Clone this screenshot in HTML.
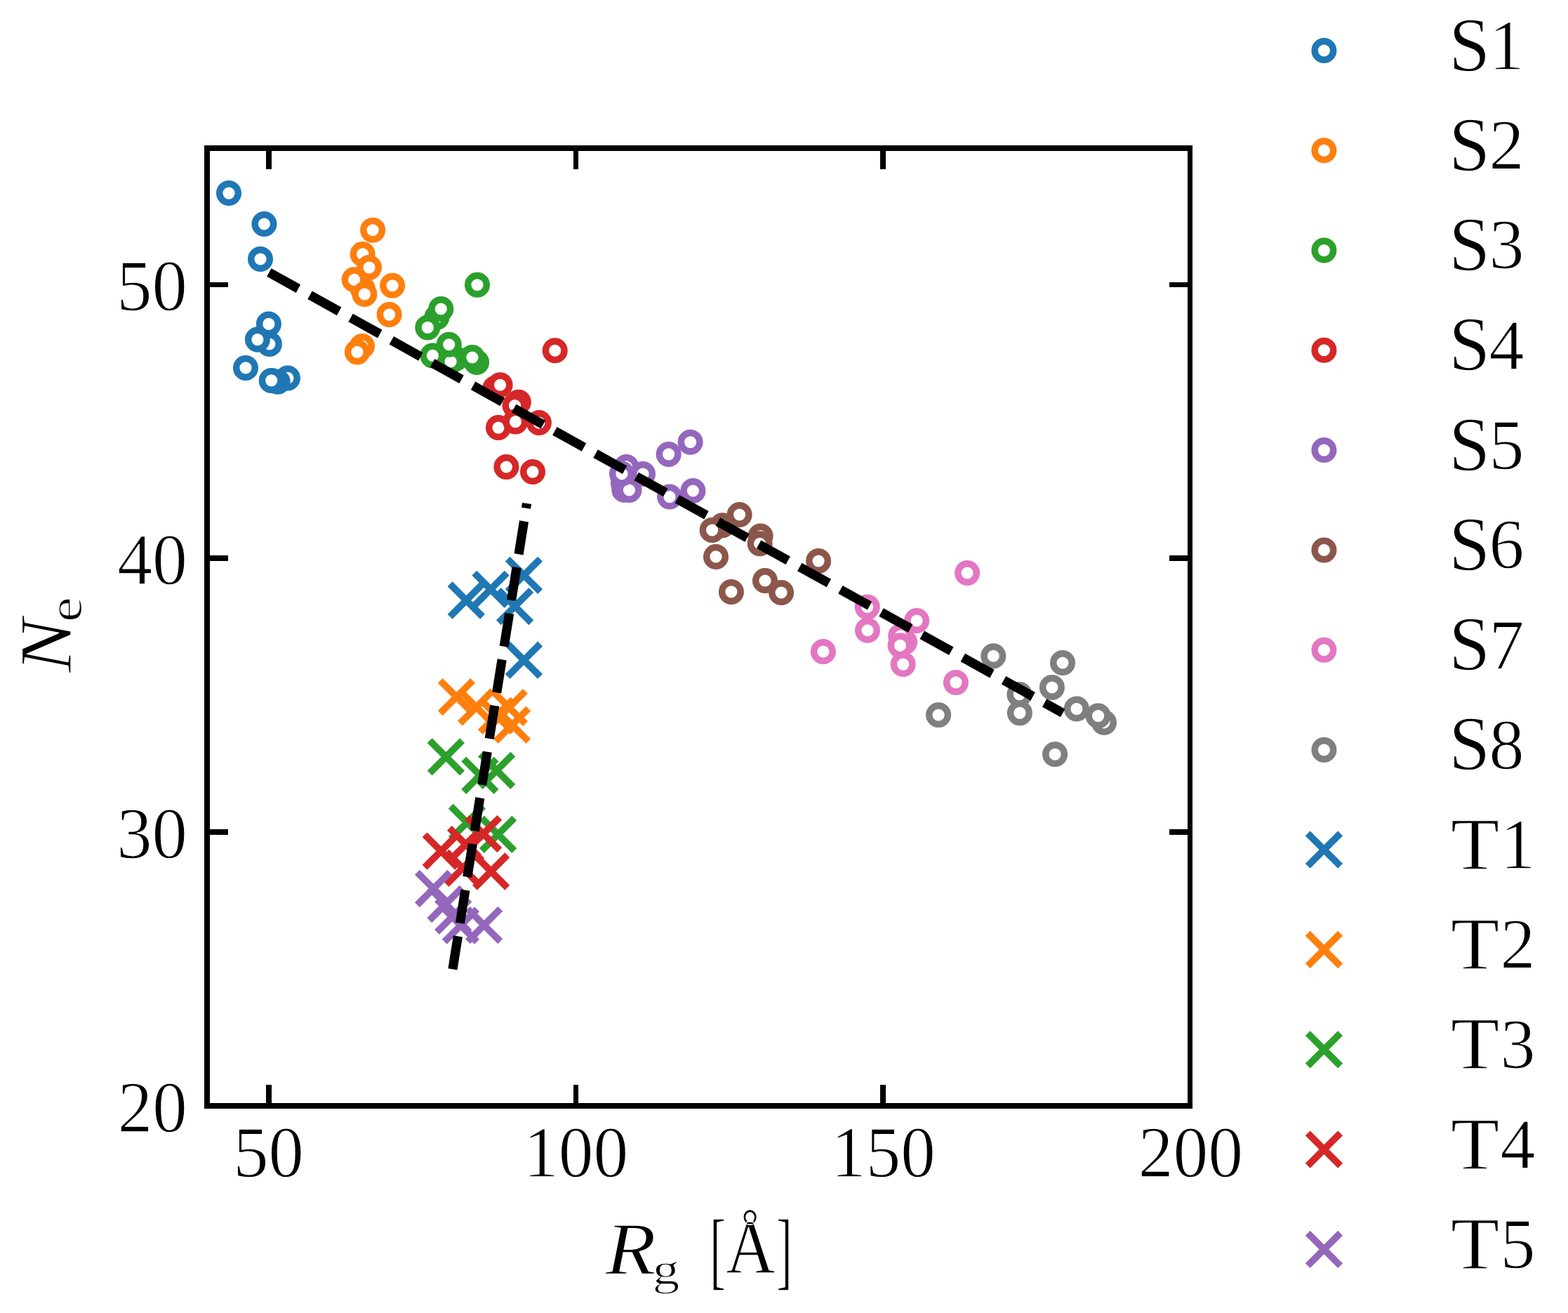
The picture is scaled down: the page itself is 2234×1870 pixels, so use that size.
<!DOCTYPE html>
<html lang="en"><head><meta charset="utf-8"><title>N_e vs R_g</title>
<style>
html,body{margin:0;padding:0;background:#fff;}
body{width:2234px;height:1870px;overflow:hidden;}
svg{display:block;}
text{font-family:"Liberation Serif","DejaVu Serif",serif;fill:#000;stroke:#fff;stroke-width:1.3px;stroke-linejoin:round}
.i{font-style:italic}
.c{fill:#fff;stroke-width:9.45}
.x{fill:none;stroke-width:9.7;stroke-linecap:butt}
.k{fill:#000;stroke:none}
.d{stroke:#000;stroke-width:13.2;fill:none;stroke-dasharray:47.6 18.9}
</style></head><body>
<svg xmlns="http://www.w3.org/2000/svg" width="2234" height="1870" viewBox="0 0 2234 1870">
<rect x="0" y="0" width="2234" height="1870" fill="#fff"/>
<g>
<circle class="c" cx="326.0" cy="275.1" r="13.3" stroke="#1f77b4"/>
<circle class="c" cx="376.4" cy="319.0" r="13.3" stroke="#1f77b4"/>
<circle class="c" cx="371.0" cy="369.0" r="13.3" stroke="#1f77b4"/>
<circle class="c" cx="383.9" cy="490.0" r="13.3" stroke="#1f77b4"/>
<circle class="c" cx="382.9" cy="461.4" r="13.3" stroke="#1f77b4"/>
<circle class="c" cx="366.9" cy="483.6" r="13.3" stroke="#1f77b4"/>
<circle class="c" cx="350.0" cy="523.9" r="13.3" stroke="#1f77b4"/>
<circle class="c" cx="409.9" cy="538.4" r="13.3" stroke="#1f77b4"/>
<circle class="c" cx="395.7" cy="543.7" r="13.3" stroke="#1f77b4"/>
<circle class="c" cx="386.7" cy="541.9" r="13.3" stroke="#1f77b4"/>
</g>
<g>
<circle class="c" cx="531.1" cy="327.7" r="13.3" stroke="#ff7f0e"/>
<circle class="c" cx="516.7" cy="361.9" r="13.3" stroke="#ff7f0e"/>
<circle class="c" cx="526.0" cy="381.0" r="13.3" stroke="#ff7f0e"/>
<circle class="c" cx="516.8" cy="411.6" r="13.3" stroke="#ff7f0e"/>
<circle class="c" cx="504.6" cy="398.3" r="13.3" stroke="#ff7f0e"/>
<circle class="c" cx="519.4" cy="419.0" r="13.3" stroke="#ff7f0e"/>
<circle class="c" cx="559.1" cy="406.7" r="13.3" stroke="#ff7f0e"/>
<circle class="c" cx="554.6" cy="448.1" r="13.3" stroke="#ff7f0e"/>
<circle class="c" cx="516.0" cy="493.0" r="13.3" stroke="#ff7f0e"/>
<circle class="c" cx="508.9" cy="501.4" r="13.3" stroke="#ff7f0e"/>
</g>
<g>
<circle class="c" cx="680.0" cy="405.7" r="13.3" stroke="#2ca02c"/>
<circle class="c" cx="622.3" cy="452.0" r="13.3" stroke="#2ca02c"/>
<circle class="c" cx="628.3" cy="440.0" r="13.3" stroke="#2ca02c"/>
<circle class="c" cx="609.3" cy="466.4" r="13.3" stroke="#2ca02c"/>
<circle class="c" cx="649.2" cy="510.7" r="13.3" stroke="#2ca02c"/>
<circle class="c" cx="642.1" cy="515.0" r="13.3" stroke="#2ca02c"/>
<circle class="c" cx="639.7" cy="490.7" r="13.3" stroke="#2ca02c"/>
<circle class="c" cx="616.4" cy="506.4" r="13.3" stroke="#2ca02c"/>
<circle class="c" cx="679.1" cy="516.0" r="13.3" stroke="#2ca02c"/>
<circle class="c" cx="672.9" cy="509.0" r="13.3" stroke="#2ca02c"/>
</g>
<g>
<circle class="c" cx="790.7" cy="499.3" r="13.3" stroke="#d62728"/>
<circle class="c" cx="705.4" cy="553.1" r="13.3" stroke="#d62728"/>
<circle class="c" cx="712.6" cy="548.2" r="13.3" stroke="#d62728"/>
<circle class="c" cx="738.8" cy="572.7" r="13.3" stroke="#d62728"/>
<circle class="c" cx="733.5" cy="577.5" r="13.3" stroke="#d62728"/>
<circle class="c" cx="710.0" cy="609.1" r="13.3" stroke="#d62728"/>
<circle class="c" cx="734.4" cy="600.6" r="13.3" stroke="#d62728"/>
<circle class="c" cx="767.9" cy="602.1" r="13.3" stroke="#d62728"/>
<circle class="c" cx="721.4" cy="665.0" r="13.3" stroke="#d62728"/>
<circle class="c" cx="759.0" cy="672.1" r="13.3" stroke="#d62728"/>
</g>
<g>
<circle class="c" cx="892.4" cy="664.9" r="13.3" stroke="#9467bd"/>
<circle class="c" cx="916.0" cy="675.0" r="13.3" stroke="#9467bd"/>
<circle class="c" cx="889.3" cy="697.7" r="13.3" stroke="#9467bd"/>
<circle class="c" cx="887.9" cy="687.9" r="13.3" stroke="#9467bd"/>
<circle class="c" cx="896.4" cy="698.0" r="13.3" stroke="#9467bd"/>
<circle class="c" cx="885.9" cy="674.8" r="13.3" stroke="#9467bd"/>
<circle class="c" cx="952.6" cy="646.9" r="13.3" stroke="#9467bd"/>
<circle class="c" cx="983.6" cy="629.7" r="13.3" stroke="#9467bd"/>
<circle class="c" cx="954.0" cy="707.6" r="13.3" stroke="#9467bd"/>
<circle class="c" cx="987.4" cy="699.0" r="13.3" stroke="#9467bd"/>
</g>
<g>
<circle class="c" cx="1053.6" cy="733.0" r="13.3" stroke="#8c564b"/>
<circle class="c" cx="1029.3" cy="748.2" r="13.3" stroke="#8c564b"/>
<circle class="c" cx="1014.6" cy="755.0" r="13.3" stroke="#8c564b"/>
<circle class="c" cx="1083.6" cy="763.5" r="13.3" stroke="#8c564b"/>
<circle class="c" cx="1082.6" cy="774.3" r="13.3" stroke="#8c564b"/>
<circle class="c" cx="1020.0" cy="792.9" r="13.3" stroke="#8c564b"/>
<circle class="c" cx="1090.0" cy="827.0" r="13.3" stroke="#8c564b"/>
<circle class="c" cx="1166.1" cy="799.0" r="13.3" stroke="#8c564b"/>
<circle class="c" cx="1041.9" cy="842.9" r="13.3" stroke="#8c564b"/>
<circle class="c" cx="1113.1" cy="844.0" r="13.3" stroke="#8c564b"/>
</g>
<g>
<circle class="c" cx="1235.7" cy="864.5" r="13.3" stroke="#e377c2"/>
<circle class="c" cx="1236.0" cy="897.7" r="13.3" stroke="#e377c2"/>
<circle class="c" cx="1172.9" cy="928.0" r="13.3" stroke="#e377c2"/>
<circle class="c" cx="1378.1" cy="816.0" r="13.3" stroke="#e377c2"/>
<circle class="c" cx="1306.1" cy="884.0" r="13.3" stroke="#e377c2"/>
<circle class="c" cx="1289.1" cy="914.6" r="13.3" stroke="#e377c2"/>
<circle class="c" cx="1283.2" cy="905.8" r="13.3" stroke="#e377c2"/>
<circle class="c" cx="1282.6" cy="919.3" r="13.3" stroke="#e377c2"/>
<circle class="c" cx="1286.7" cy="946.1" r="13.3" stroke="#e377c2"/>
<circle class="c" cx="1361.9" cy="971.9" r="13.3" stroke="#e377c2"/>
</g>
<g>
<circle class="c" cx="1415.3" cy="934.2" r="13.3" stroke="#7f7f7f"/>
<circle class="c" cx="1337.1" cy="1018.2" r="13.3" stroke="#7f7f7f"/>
<circle class="c" cx="1514.0" cy="944.0" r="13.3" stroke="#7f7f7f"/>
<circle class="c" cx="1498.9" cy="979.0" r="13.3" stroke="#7f7f7f"/>
<circle class="c" cx="1452.4" cy="988.9" r="13.3" stroke="#7f7f7f"/>
<circle class="c" cx="1452.9" cy="1015.4" r="13.3" stroke="#7f7f7f"/>
<circle class="c" cx="1533.9" cy="1009.6" r="13.3" stroke="#7f7f7f"/>
<circle class="c" cx="1573.0" cy="1028.9" r="13.3" stroke="#7f7f7f"/>
<circle class="c" cx="1564.6" cy="1019.6" r="13.3" stroke="#7f7f7f"/>
<circle class="c" cx="1503.1" cy="1074.3" r="13.3" stroke="#7f7f7f"/>
</g>
<g>
<path class="x" stroke="#1f77b4" d="M723.2 796.1L769.6 842.5M723.2 842.5L769.6 796.1"/>
<path class="x" stroke="#1f77b4" d="M675.8 816.1L722.2 862.5M675.8 862.5L722.2 816.1"/>
<path class="x" stroke="#1f77b4" d="M641.1 831.8L687.5 878.2M641.1 878.2L687.5 831.8"/>
<path class="x" stroke="#1f77b4" d="M710.4 840.4L756.8 886.8M710.4 886.8L756.8 840.4"/>
<path class="x" stroke="#1f77b4" d="M723.2 917.0L769.6 963.4M723.2 963.4L769.6 917.0"/>
</g>
<g>
<path class="x" stroke="#ff7f0e" d="M627.2 969.4L673.6 1015.8M627.2 1015.8L673.6 969.4"/>
<path class="x" stroke="#ff7f0e" d="M655.4 983.9L701.8 1030.3M655.4 1030.3L701.8 983.9"/>
<path class="x" stroke="#ff7f0e" d="M702.1 984.4L748.5 1030.8M702.1 1030.8L748.5 984.4"/>
<path class="x" stroke="#ff7f0e" d="M706.4 1009.2L752.8 1055.6M706.4 1055.6L752.8 1009.2"/>
<path class="x" stroke="#ff7f0e" d="M684.4 996.1L730.8 1042.5M684.4 1042.5L730.8 996.1"/>
</g>
<g>
<path class="x" stroke="#2ca02c" d="M612.2 1054.7L658.6 1101.1M612.2 1101.1L658.6 1054.7"/>
<path class="x" stroke="#2ca02c" d="M660.7 1081.1L707.1 1127.5M660.7 1127.5L707.1 1081.1"/>
<path class="x" stroke="#2ca02c" d="M684.4 1074.1L730.8 1120.5M684.4 1120.5L730.8 1074.1"/>
<path class="x" stroke="#2ca02c" d="M642.2 1148.2L688.6 1194.6M642.2 1194.6L688.6 1148.2"/>
<path class="x" stroke="#2ca02c" d="M686.4 1165.1L732.8 1211.5M686.4 1211.5L732.8 1165.1"/>
</g>
<g>
<path class="x" stroke="#d62728" d="M605.1 1188.9L651.5 1235.3M605.1 1235.3L651.5 1188.9"/>
<path class="x" stroke="#d62728" d="M640.4 1179.4L686.8 1225.8M640.4 1225.8L686.8 1179.4"/>
<path class="x" stroke="#d62728" d="M665.4 1164.4L711.8 1210.8M665.4 1210.8L711.8 1164.4"/>
<path class="x" stroke="#d62728" d="M676.4 1217.8L722.8 1264.2M676.4 1264.2L722.8 1217.8"/>
<path class="x" stroke="#d62728" d="M636.1 1213.2L682.5 1259.6M636.1 1259.6L682.5 1213.2"/>
</g>
<g>
<path class="x" stroke="#9467bd" d="M594.4 1242.4L640.8 1288.8M594.4 1288.8L640.8 1242.4"/>
<path class="x" stroke="#9467bd" d="M611.8 1264.4L658.2 1310.8M611.8 1310.8L658.2 1264.4"/>
<path class="x" stroke="#9467bd" d="M622.5 1281.1L668.9 1327.5M622.5 1327.5L668.9 1281.1"/>
<path class="x" stroke="#9467bd" d="M666.4 1294.4L712.8 1340.8M666.4 1340.8L712.8 1294.4"/>
<path class="x" stroke="#9467bd" d="M633.2 1294.9L679.6 1341.3M633.2 1341.3L679.6 1294.9"/>
</g>
<path class="d" d="M383.35 388.01L1514.20 1015.50"/>
<path class="d" d="M644.94 1380.40L750.60 717.00"/>
<path class="k" d="M379 1545H387V1575H379ZM379 211H387V241H379ZM817 1545H824V1575H817ZM817 211H824V241H817ZM1254 1545H1262V1575H1254ZM1254 211H1262V241H1254ZM295 402H325V409H295ZM1666 402H1695V409H1666ZM295 791H325V799H295ZM1666 791H1695V799H1666ZM295 1181H325V1189H295ZM1666 1181H1695V1189H1666Z"/>
<path class="k" fill-rule="evenodd" d="M291 207H1699V1579H291ZM299 215V1571H1692V215Z"/>
<text><tspan x="332.20" y="1675.90" font-size="104.74" textLength="100.78" lengthAdjust="spacingAndGlyphs">50</tspan></text>
<text><tspan x="746.11" y="1675.90" font-size="104.74" textLength="149.01" lengthAdjust="spacingAndGlyphs">100</tspan></text>
<text><tspan x="1184.24" y="1675.90" font-size="104.74" textLength="148.47" lengthAdjust="spacingAndGlyphs">150</tspan></text>
<text><tspan x="1621.87" y="1675.90" font-size="104.74" textLength="149.26" lengthAdjust="spacingAndGlyphs">200</tspan></text>
<text><tspan x="166.21" y="441.71" font-size="104.44" textLength="100.67" lengthAdjust="spacingAndGlyphs">50</tspan></text>
<text><tspan x="167.16" y="831.70" font-size="104.59" textLength="99.68" lengthAdjust="spacingAndGlyphs">40</tspan></text>
<text><tspan x="166.22" y="1221.80" font-size="104.59" textLength="100.66" lengthAdjust="spacingAndGlyphs">30</tspan></text>
<text><tspan x="167.80" y="1611.71" font-size="104.44" textLength="98.91" lengthAdjust="spacingAndGlyphs">20</tspan></text>
<text><tspan x="862.84" y="1813.55" font-size="106.62" textLength="71.88" lengthAdjust="spacingAndGlyphs" class="i">R</tspan><tspan x="929.55" y="1829.08" font-size="64.14" textLength="38.85" lengthAdjust="spacingAndGlyphs">g</tspan><tspan font-size="60"> </tspan><tspan x="1010.90" y="1821.91" font-size="122.55" textLength="23.31" lengthAdjust="spacingAndGlyphs">[</tspan><tspan x="1034.18" y="1813.35" font-size="110.67" textLength="70.37" lengthAdjust="spacingAndGlyphs">Å</tspan><tspan x="1105.95" y="1821.91" font-size="122.55" textLength="22.80" lengthAdjust="spacingAndGlyphs">]</tspan></text>
<text transform="translate(100,958) rotate(-90)"><tspan x="-0.07" y="0.65" font-size="106.77" textLength="76.78" lengthAdjust="spacingAndGlyphs" class="i">N</tspan><tspan x="71.93" y="16.17" font-size="67.92" textLength="35.75" lengthAdjust="spacingAndGlyphs">e</tspan></text>
<circle class="c" cx="1886.4" cy="72.0" r="13.3" stroke="#1f77b4"/>
<text><tspan x="2064.17" y="100.55" font-size="109.55" textLength="58.85" lengthAdjust="spacingAndGlyphs">S</tspan><tspan x="2121.50" y="98.90" font-size="101.80" textLength="50.00" lengthAdjust="spacingAndGlyphs">1</tspan></text>
<circle class="c" cx="1886.4" cy="214.3" r="13.3" stroke="#ff7f0e"/>
<text><tspan x="2064.17" y="242.82" font-size="109.55" textLength="58.85" lengthAdjust="spacingAndGlyphs">S</tspan><tspan x="2121.50" y="241.17" font-size="101.80" textLength="50.00" lengthAdjust="spacingAndGlyphs">2</tspan></text>
<circle class="c" cx="1886.4" cy="356.6" r="13.3" stroke="#2ca02c"/>
<text><tspan x="2064.17" y="385.09" font-size="109.55" textLength="58.85" lengthAdjust="spacingAndGlyphs">S</tspan><tspan x="2121.50" y="383.44" font-size="101.80" textLength="50.00" lengthAdjust="spacingAndGlyphs">3</tspan></text>
<circle class="c" cx="1886.4" cy="498.8" r="13.3" stroke="#d62728"/>
<text><tspan x="2064.17" y="527.36" font-size="109.55" textLength="58.85" lengthAdjust="spacingAndGlyphs">S</tspan><tspan x="2121.50" y="525.71" font-size="101.80" textLength="50.00" lengthAdjust="spacingAndGlyphs">4</tspan></text>
<circle class="c" cx="1886.4" cy="641.1" r="13.3" stroke="#9467bd"/>
<text><tspan x="2064.17" y="669.63" font-size="109.55" textLength="58.85" lengthAdjust="spacingAndGlyphs">S</tspan><tspan x="2121.50" y="667.98" font-size="101.80" textLength="50.00" lengthAdjust="spacingAndGlyphs">5</tspan></text>
<circle class="c" cx="1886.4" cy="783.4" r="13.3" stroke="#8c564b"/>
<text><tspan x="2064.17" y="811.90" font-size="109.55" textLength="58.85" lengthAdjust="spacingAndGlyphs">S</tspan><tspan x="2121.50" y="810.25" font-size="101.80" textLength="50.00" lengthAdjust="spacingAndGlyphs">6</tspan></text>
<circle class="c" cx="1886.4" cy="925.7" r="13.3" stroke="#e377c2"/>
<text><tspan x="2064.17" y="954.17" font-size="109.55" textLength="58.85" lengthAdjust="spacingAndGlyphs">S</tspan><tspan x="2121.50" y="952.52" font-size="101.80" textLength="50.00" lengthAdjust="spacingAndGlyphs">7</tspan></text>
<circle class="c" cx="1886.4" cy="1068.0" r="13.3" stroke="#7f7f7f"/>
<text><tspan x="2064.17" y="1096.44" font-size="109.55" textLength="58.85" lengthAdjust="spacingAndGlyphs">S</tspan><tspan x="2121.50" y="1094.79" font-size="101.80" textLength="50.00" lengthAdjust="spacingAndGlyphs">8</tspan></text>
<path class="x" stroke="#1f77b4" d="M1863.2 1187.0L1909.6 1233.4M1863.2 1233.4L1909.6 1187.0"/>
<text><tspan x="2066.87" y="1237.71" font-size="106.46" textLength="69.58" lengthAdjust="spacingAndGlyphs">T</tspan><tspan x="2137.50" y="1237.06" font-size="101.80" textLength="50.00" lengthAdjust="spacingAndGlyphs">1</tspan></text>
<path class="x" stroke="#ff7f0e" d="M1863.2 1329.3L1909.6 1375.7M1863.2 1375.7L1909.6 1329.3"/>
<text><tspan x="2066.87" y="1379.98" font-size="106.46" textLength="69.58" lengthAdjust="spacingAndGlyphs">T</tspan><tspan x="2137.50" y="1379.33" font-size="101.80" textLength="50.00" lengthAdjust="spacingAndGlyphs">2</tspan></text>
<path class="x" stroke="#2ca02c" d="M1863.2 1471.6L1909.6 1518.0M1863.2 1518.0L1909.6 1471.6"/>
<text><tspan x="2066.87" y="1522.25" font-size="106.46" textLength="69.58" lengthAdjust="spacingAndGlyphs">T</tspan><tspan x="2137.50" y="1521.60" font-size="101.80" textLength="50.00" lengthAdjust="spacingAndGlyphs">3</tspan></text>
<path class="x" stroke="#d62728" d="M1863.2 1613.9L1909.6 1660.3M1863.2 1660.3L1909.6 1613.9"/>
<text><tspan x="2066.87" y="1664.52" font-size="106.46" textLength="69.58" lengthAdjust="spacingAndGlyphs">T</tspan><tspan x="2137.50" y="1663.87" font-size="101.80" textLength="50.00" lengthAdjust="spacingAndGlyphs">4</tspan></text>
<path class="x" stroke="#9467bd" d="M1863.2 1756.2L1909.6 1802.6M1863.2 1802.6L1909.6 1756.2"/>
<text><tspan x="2066.87" y="1806.79" font-size="106.46" textLength="69.58" lengthAdjust="spacingAndGlyphs">T</tspan><tspan x="2137.50" y="1806.14" font-size="101.80" textLength="50.00" lengthAdjust="spacingAndGlyphs">5</tspan></text>
</svg></body></html>
